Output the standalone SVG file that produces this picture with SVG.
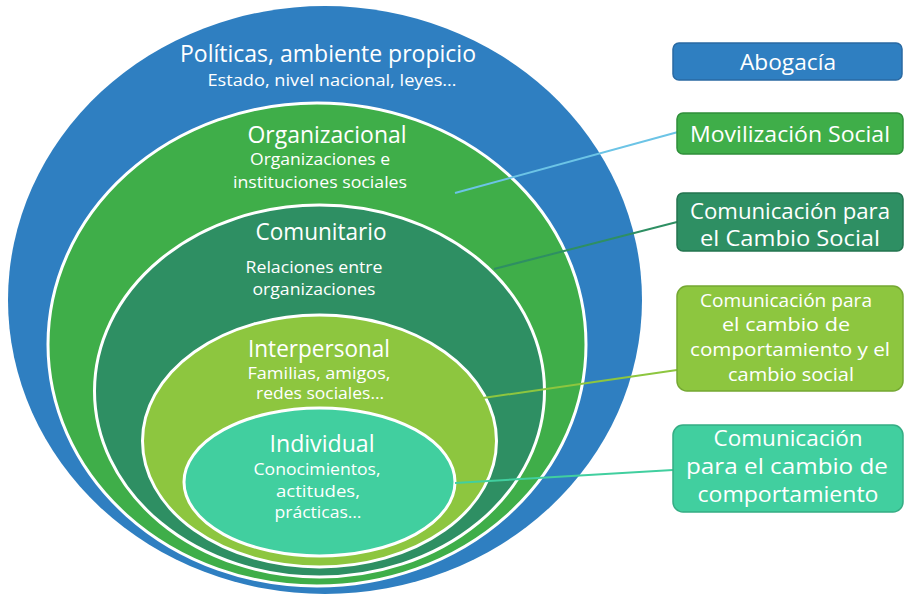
<svg xmlns="http://www.w3.org/2000/svg" width="908" height="597" viewBox="0 0 908 597">
<style>
.ring{stroke:#ffffff;stroke-width:3}
.t{font-family:"Open Sans","Liberation Sans",sans-serif;fill:#ffffff;text-anchor:middle}
.h{font-size:23px}
.s{font-size:16px}
.b{font-size:21px}
.m{font-size:18px}
.box{stroke-width:1.5}
.c{fill:none;stroke-width:2}
</style>
<rect width="908" height="597" fill="#ffffff"/>
<g id="politicas">
<ellipse cx="325" cy="300" rx="317" ry="294" fill="#2f7fc1"/>
<text class="t h" x="328" y="62" textLength="296" lengthAdjust="spacingAndGlyphs">Políticas, ambiente propicio</text>
<text class="t s" x="332" y="86" textLength="249" lengthAdjust="spacingAndGlyphs">Estado, nivel nacional, leyes…</text>
</g>
<g id="organizacional">
<ellipse class="ring" cx="317" cy="344.5" rx="269" ry="241.5" fill="#3fae49"/>
<text class="t h" x="327" y="143" textLength="159" lengthAdjust="spacingAndGlyphs">Organizacional</text>
<text class="t s" x="320" y="165" textLength="140" lengthAdjust="spacingAndGlyphs">Organizaciones e</text>
<text class="t s" x="320" y="188" textLength="174" lengthAdjust="spacingAndGlyphs">instituciones sociales</text>
</g>
<g id="comunitario">
<ellipse class="ring" cx="319.5" cy="391" rx="225" ry="186" fill="#2e8f63"/>
<text class="t h" x="321" y="240" textLength="131" lengthAdjust="spacingAndGlyphs">Comunitario</text>
<text class="t s" x="314" y="273" textLength="137" lengthAdjust="spacingAndGlyphs">Relaciones entre</text>
<text class="t s" x="314" y="295" textLength="123" lengthAdjust="spacingAndGlyphs">organizaciones</text>
</g>
<g id="interpersonal">
<ellipse class="ring" cx="319.5" cy="441" rx="177" ry="126" fill="#8dc63f"/>
<text class="t h" x="319" y="357" textLength="142" lengthAdjust="spacingAndGlyphs">Interpersonal</text>
<text class="t s" x="319" y="379" textLength="143" lengthAdjust="spacingAndGlyphs">Familias, amigos,</text>
<text class="t s" x="320" y="399" textLength="128" lengthAdjust="spacingAndGlyphs">redes sociales…</text>
</g>
<g id="individual">
<ellipse class="ring" cx="319.5" cy="482" rx="135.5" ry="74" fill="#41cf9f"/>
<text class="t h" x="322" y="452" textLength="105" lengthAdjust="spacingAndGlyphs">Individual</text>
<text class="t s" x="317" y="475" textLength="127" lengthAdjust="spacingAndGlyphs">Conocimientos,</text>
<text class="t s" x="318" y="497" textLength="84" lengthAdjust="spacingAndGlyphs">actitudes,</text>
<text class="t s" x="318" y="518" textLength="87" lengthAdjust="spacingAndGlyphs">prácticas…</text>
</g>
<g id="connectors">
<line class="c" x1="455" y1="193" x2="678" y2="132" stroke="#6cc4e6"/>
<line class="c" x1="494" y1="269" x2="677" y2="222" stroke="#2e8f63"/>
<line class="c" x1="483" y1="398" x2="677" y2="370" stroke="#8dc63f"/>
<line class="c" x1="455" y1="483" x2="673" y2="470" stroke="#41cf9f"/>
</g>
<g id="abogacia">
<rect class="box" x="673" y="43" width="229" height="37" rx="6" fill="#2f7fc1" stroke="#2a6aa3"/>
<text class="t b" x="788" y="70" textLength="96" lengthAdjust="spacingAndGlyphs">Abogacía</text>
</g>
<g id="movilizacion">
<rect class="box" x="677" y="113" width="226" height="41" rx="6" fill="#3fae49" stroke="#2f8f3a"/>
<text class="t b" x="790" y="142" textLength="200" lengthAdjust="spacingAndGlyphs">Movilización Social</text>
</g>
<g id="cambio-social">
<rect class="box" x="677" y="193" width="226" height="58" rx="6" fill="#2e8f63" stroke="#23744f"/>
<text class="t b" x="790" y="219" textLength="200" lengthAdjust="spacingAndGlyphs">Comunicación para</text>
<text class="t b" x="790" y="246" textLength="180" lengthAdjust="spacingAndGlyphs">el Cambio Social</text>
</g>
<g id="comportamiento-social">
<rect class="box" x="677" y="286" width="226" height="105" rx="10" fill="#8dc63f" stroke="#74a832"/>
<text class="t m" x="786" y="307" textLength="172" lengthAdjust="spacingAndGlyphs">Comunicación para</text>
<text class="t m" x="786" y="331" textLength="128" lengthAdjust="spacingAndGlyphs">el cambio de</text>
<text class="t m" x="790" y="356" textLength="200" lengthAdjust="spacingAndGlyphs">comportamiento y el</text>
<text class="t m" x="791" y="381" textLength="126" lengthAdjust="spacingAndGlyphs">cambio social</text>
</g>
<g id="comportamiento">
<rect class="box" x="673" y="425" width="230" height="87" rx="10" fill="#41cf9f" stroke="#35ad84"/>
<text class="t b" x="788" y="446" textLength="149" lengthAdjust="spacingAndGlyphs">Comunicación</text>
<text class="t b" x="787" y="474" textLength="202" lengthAdjust="spacingAndGlyphs">para el cambio de</text>
<text class="t b" x="788" y="502" textLength="181" lengthAdjust="spacingAndGlyphs">comportamiento</text>
</g>
</svg>
